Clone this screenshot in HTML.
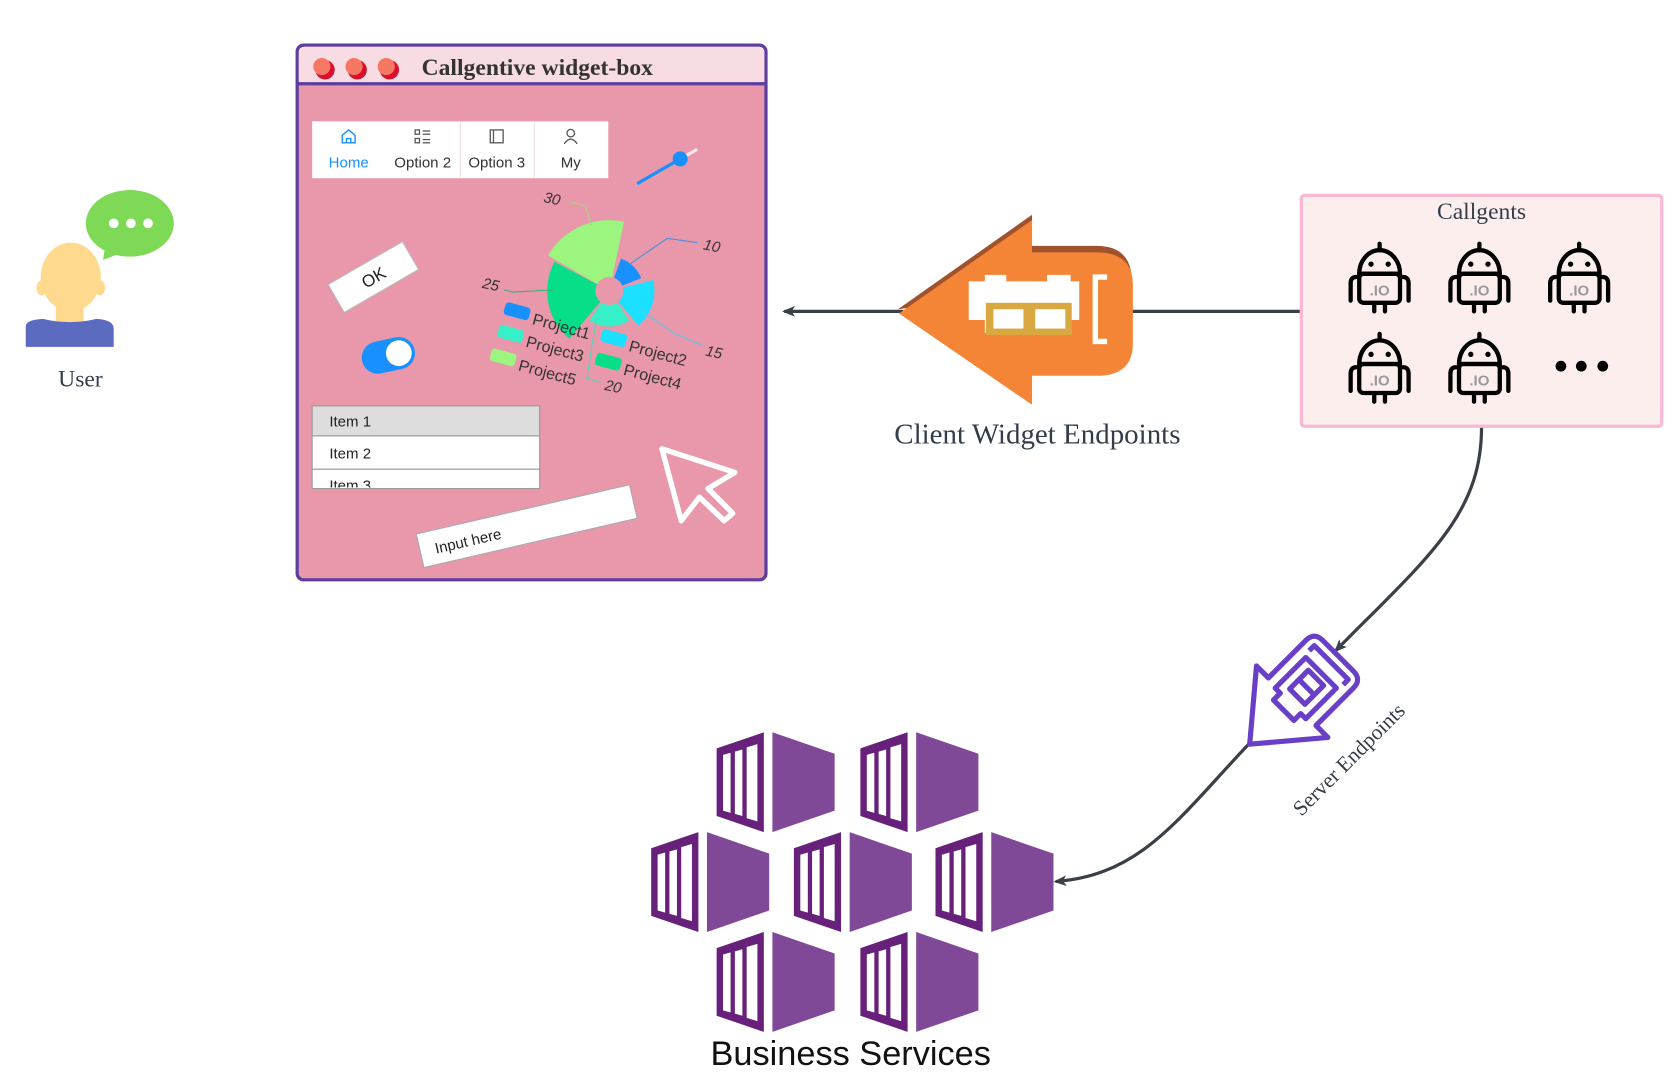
<!DOCTYPE html>
<html><head><meta charset="utf-8"><style>
html,body{margin:0;padding:0;background:#fff;}
svg{display:block;}
text{font-family:"Liberation Sans",sans-serif;}
.serif{font-family:"Liberation Serif",serif;}
</style></head><body>
<svg width="1680" height="1092" viewBox="0 0 1566 1017" preserveAspectRatio="none" xmlns="http://www.w3.org/2000/svg">
<defs>
<g id="robot" fill="none" stroke="#000" stroke-width="4" stroke-linecap="round">
  <line x1="0" y1="-25" x2="0" y2="-31"/>
  <path d="M-19,-3 A19,22 0 0 1 19,-3 Z"/>
  <rect x="-19" y="-3" width="38" height="27" rx="4"/>
  <circle cx="-8" cy="-12" r="2.5" fill="#000" stroke="none"/>
  <circle cx="8" cy="-12" r="2.5" fill="#000" stroke="none"/>
  <path d="M-27,22 L-27,6 Q-27,0 -22,0"/>
  <path d="M27,22 L27,6 Q27,0 22,0"/>
  <line x1="-5" y1="25" x2="-5" y2="32"/>
  <line x1="5" y1="25" x2="5" y2="32"/>
  <text x="0" y="17" text-anchor="middle" font-size="14" font-weight="bold" fill="#999" stroke="none">.IO</text>
</g>
<g id="cont">
  <path d="M0,15 L44,0 L44,93 L0,78 Z" fill="#68217A"/>
  <path d="M6,21 L13,19 L13,75 L6,73 Z M17,18 L24,16 L24,78 L17,76 Z M28,14 L38,11 L38,83 L28,80 Z" fill="#fff"/>
  <path d="M52,0 L110,20 L110,73 L52,93 Z" fill="#804998"/>
</g>
<marker id="ah" markerWidth="12" markerHeight="10" refX="10" refY="5" orient="auto" markerUnits="userSpaceOnUse">
  <path d="M0,0 L12,5 L0,10 L3,5 Z" fill="#3a3f48"/>
</marker>
</defs>

<!-- User -->
<ellipse cx="121" cy="208" rx="41" ry="31" fill="#7ED957"/>
<path d="M98,230 L96,242 L112,236 Z" fill="#7ED957"/>
<circle cx="106" cy="208" r="4.5" fill="#fff"/><circle cx="122" cy="208" r="4.5" fill="#fff"/><circle cx="138" cy="208" r="4.5" fill="#fff"/>
<rect x="52" y="270" width="26" height="32" fill="#FFD98E"/>
<ellipse cx="66" cy="258" rx="28" ry="32" fill="#FFD98E"/>
<ellipse cx="39" cy="268" rx="5" ry="7" fill="#FFD98E"/><ellipse cx="93" cy="268" rx="5" ry="7" fill="#FFD98E"/>
<path d="M24,304 Q24,298 40,297 Q65,303 90,297 Q106,298 106,306 L106,323 L24,323 Z" fill="#5B6BC0"/>
<text x="75" y="360" class="serif" font-size="22" fill="#333d4a" text-anchor="middle">User</text>

<!-- Window -->
<rect x="277" y="42" width="437" height="498" rx="6" fill="#E898AA" stroke="#5B3E9E" stroke-width="3"/>
<path d="M278.5,78 L278.5,49 Q278.5,43.5 284,43.5 L707,43.5 Q712.5,43.5 712.5,49 L712.5,78 Z" fill="#F7DDE3"/>
<line x1="277" y1="78" x2="714" y2="78" stroke="#5B3E9E" stroke-width="3"/>
<circle cx="303" cy="65" r="9" fill="#D8102E"/><circle cx="300" cy="62" r="8" fill="#F57865"/>
<circle cx="333" cy="65" r="9" fill="#D8102E"/><circle cx="330" cy="62" r="8" fill="#F57865"/>
<circle cx="363" cy="65" r="9" fill="#D8102E"/><circle cx="360" cy="62" r="8" fill="#F57865"/>
<text x="393" y="70" class="serif" font-size="22" font-weight="bold" fill="#333">Callgentive widget-box</text>

<rect x="291" y="113" width="276" height="53" fill="#fff"/>
<line x1="429" y1="113" x2="429" y2="166" stroke="#f3dada"/><line x1="498" y1="113" x2="498" y2="166" stroke="#f3dada"/>
<path d="M319,133 L319,126 L325,121 L331,126 L331,133 Z M323,133 L323,129 L327,129 L327,133" fill="none" stroke="#1890FF" stroke-width="1.3"/>
<g fill="none" stroke="#555" stroke-width="1.2"><rect x="387" y="121" width="4" height="4"/><rect x="387" y="129" width="4" height="4"/><line x1="394" y1="122" x2="401" y2="122"/><line x1="394" y1="125" x2="401" y2="125"/><line x1="394" y1="130" x2="401" y2="130"/><line x1="394" y1="133" x2="401" y2="133"/>
<rect x="457" y="121" width="12" height="12"/><line x1="460" y1="121" x2="460" y2="133"/>
<circle cx="532" cy="124" r="3.5"/><path d="M526,134 Q532,125 538,134"/></g>
<text x="325" y="156" font-size="14" fill="#1890FF" text-anchor="middle">Home</text>
<text x="394" y="156" font-size="14" fill="#333" text-anchor="middle">Option 2</text>
<text x="463" y="156" font-size="14" fill="#333" text-anchor="middle">Option 3</text>
<text x="532" y="156" font-size="14" fill="#333" text-anchor="middle">My</text>

<line x1="634" y1="148" x2="650" y2="139" stroke="#f4e6ea" stroke-width="3"/>
<line x1="594" y1="171" x2="634" y2="148" stroke="#1890FF" stroke-width="3"/>
<circle cx="634" cy="148" r="7" fill="#1890FF"/>

<g transform="translate(348,258) rotate(-30)"><rect x="-40" y="-15" width="80" height="30" fill="#fff" stroke="#bbb"/><text x="0" y="6" font-size="16" text-anchor="middle" fill="#222">OK</text></g>
<g transform="translate(362,331) rotate(-12)"><rect x="-25" y="-15" width="50" height="30" rx="15" fill="#1890FF"/><circle cx="10" cy="0" r="12" fill="#fff"/></g>

<rect x="291" y="378" width="212" height="28" fill="#ddd" stroke="#999"/>
<rect x="291" y="406" width="212" height="31" fill="#fff" stroke="#999"/>
<rect x="291" y="437" width="212" height="18" fill="#fff" stroke="#999"/>
<text x="307" y="397" font-size="14" fill="#222">Item 1</text>
<text x="307" y="427" font-size="14" fill="#222">Item 2</text>
<clipPath id="c3"><rect x="291" y="437" width="212" height="17"/></clipPath>
<text x="307" y="457" font-size="14" fill="#222" clip-path="url(#c3)">Item 3</text>

<g transform="translate(491,490) rotate(-13)"><rect x="-102" y="-16" width="204" height="32" fill="#fff" stroke="#aaa"/><text x="-88" y="6" font-size="14" fill="#222">Input here</text></g>
<path d="M617,418 L685,440 L660,455 L683,478 L675,485 L652,463 L635,485 Z" fill="none" stroke="#fff" stroke-width="5" stroke-linejoin="round"/>

<!-- pie -->
<g id="pie"></g>
<g fill="none" stroke-width="1">
<path d="M532,188 L546,192 L551,210" stroke="#9fd87f"/>
<path d="M587,246 L622,222 L650,226" stroke="#4a90e2"/>
<path d="M470,270 L478,272 L516,270" stroke="#3cb371"/>
<path d="M597,289 L628,310 L655,322" stroke="#5bc8e8"/>
<path d="M556,296 L547,352 L560,356" stroke="#4fd8b8"/>
</g>
<g font-size="14" fill="#333" font-style="italic">
<text x="506" y="188" transform="rotate(12 506 188)">30</text>
<text x="655" y="232" transform="rotate(12 655 232)">10</text>
<text x="449" y="268" transform="rotate(12 449 268)">25</text>
<text x="657" y="331" transform="rotate(12 657 331)">15</text>
<text x="563" y="363" transform="rotate(12 563 363)">20</text>
</g>
<g font-size="15" fill="#333">
<g transform="translate(472,281) rotate(15)"><rect x="0" y="0" width="24" height="12" rx="3" fill="#1890FF"/><text x="28" y="14">Project1</text></g>
<g transform="translate(466,302) rotate(15)"><rect x="0" y="0" width="24" height="12" rx="3" fill="#36F0C8"/><text x="28" y="14">Project3</text></g>
<g transform="translate(459,324) rotate(15)"><rect x="0" y="0" width="24" height="12" rx="3" fill="#9CF57F"/><text x="28" y="14">Project5</text></g>
<g transform="translate(562,306) rotate(15)"><rect x="0" y="0" width="24" height="12" rx="3" fill="#1BE0FF"/><text x="28" y="14">Project2</text></g>
<g transform="translate(557,328) rotate(15)"><rect x="0" y="0" width="24" height="12" rx="3" fill="#06DF88"/><text x="28" y="14">Project4</text></g>
</g>

<!-- connectors -->
<line x1="1212" y1="290" x2="1055" y2="290" stroke="#3a3f48" stroke-width="3"/>
<line x1="842" y1="290" x2="731" y2="290" stroke="#3a3f48" stroke-width="3" marker-end="url(#ah)"/>
<path d="M1381,398 C1381,480 1330,520 1245,606" fill="none" stroke="#3a3f48" stroke-width="3" marker-end="url(#ah)"/>
<path d="M1165,692 C1100,760 1065,815 984,821" fill="none" stroke="#3a3f48" stroke-width="3" marker-end="url(#ah)"/>

<!-- orange arrow -->
<path d="M837,288 L962,200 L962,229 L1022,229 Q1054,229 1055,260 Z" fill="#A0522D"/>
<path d="M838,292 L962,205 L962,235 L1022,235 Q1056,235 1056,265 L1056,320 Q1056,350 1022,350 L962,350 L962,377 Z" fill="#F58536"/>
<rect x="903" y="262" width="103" height="36" fill="#fff"/>
<rect x="918" y="256" width="20" height="8" fill="#fff"/><rect x="976" y="256" width="22" height="8" fill="#fff"/>
<rect x="918" y="280" width="80" height="30" fill="#fff"/>
<rect x="919" y="282" width="80" height="30" fill="#DAA840"/>
<rect x="926" y="288" width="28" height="18" fill="#fff"/><rect x="965" y="288" width="28" height="18" fill="#fff"/>
<path d="M1032,258 L1021,258 L1021,318 L1032,318" fill="none" stroke="#fff" stroke-width="5"/>
<text x="967" y="413" class="serif" font-size="27" fill="#333d4a" text-anchor="middle">Client Widget Endpoints</text>

<!-- Callgents -->
<rect x="1213" y="182" width="336" height="215" rx="3" fill="#FDEEEE" stroke="#F9B8D4" stroke-width="3"/>
<text x="1381" y="204" class="serif" font-size="22" fill="#333d4a" text-anchor="middle">Callgents</text>
<use href="#robot" x="1286" y="258"/><use href="#robot" x="1379" y="258"/><use href="#robot" x="1472" y="258"/>
<use href="#robot" x="1286" y="342"/><use href="#robot" x="1379" y="342"/>
<circle cx="1455" cy="341" r="5"/><circle cx="1474" cy="341" r="5"/><circle cx="1494" cy="341" r="5"/>

<!-- server endpoint icon -->
<g transform="translate(1214,644) rotate(-45) scale(1.12)" fill="none" stroke="#6A3FC7" stroke-width="4.3" stroke-linejoin="round">
  <path d="M-62,0 L-12,-42 L-12,-28 L32,-28 Q42,-28 42,-18 L42,18 Q42,28 32,28 L-12,28 L-12,42 Z"/>
  <path d="M-22,-12 L-14,-12 L-14,-18 L22,-18 L22,18 L-14,18 L-14,12 L-22,12 Z"/>
  <rect x="-6" y="-9" width="22" height="18"/><line x1="5" y1="-9" x2="5" y2="9"/>
  <path d="M28,-20 L34,-20 L34,20 L28,20"/>
</g>
<text x="1262" y="712" class="serif" font-size="20" fill="#333d4a" text-anchor="middle" transform="rotate(-45 1262 712)">Server Endpoints</text>

<!-- business services -->
<use href="#cont" x="668" y="682"/><use href="#cont" x="802" y="682"/>
<use href="#cont" x="607" y="775"/><use href="#cont" x="740" y="775"/><use href="#cont" x="872" y="775"/>
<use href="#cont" x="668" y="868"/><use href="#cont" x="802" y="868"/>
<text x="793" y="992" font-size="32" fill="#111" text-anchor="middle">Business Services</text>

<script>
(function(){
var cx=568,cy=271,ri=13,g=document.getElementById('pie');
var s=[[-150,-78,66,'#9CF57F'],[-70,-22,32,'#1890FF'],[-14,50,42,'#1BE0FF'],[56,124,33,'#36F0C8'],[130,208,58,'#06DF88']];
function p(a,r){a=a*Math.PI/180;return (cx+r*Math.cos(a)).toFixed(1)+','+(cy+r*Math.sin(a)).toFixed(1);}
s.forEach(function(t){var d='M'+p(t[0],ri)+' L'+p(t[0],t[2])+' A'+t[2]+','+t[2]+' 0 0 1 '+p(t[1],t[2])+' L'+p(t[1],ri)+' A'+ri+','+ri+' 0 0 0 '+p(t[0],ri)+' Z';
var e=document.createElementNS('http://www.w3.org/2000/svg','path');e.setAttribute('d',d);e.setAttribute('fill',t[3]);g.appendChild(e);});
})();
</script>
</svg>
</body></html>
